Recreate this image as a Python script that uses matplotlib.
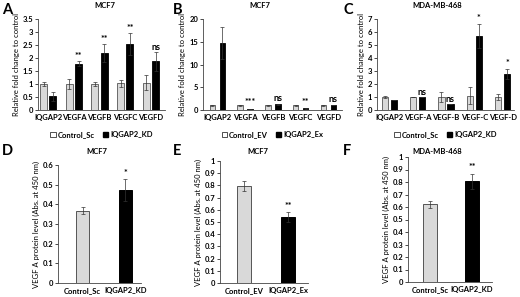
import matplotlib
matplotlib.use("Agg")
import matplotlib.pyplot as plt
import numpy as np
from matplotlib.patches import Patch

plt.rcParams['font.family'] = ['Lato', 'DejaVu Sans']
plt.rcParams['font.weight'] = 'bold'

W, H = 520, 297

# ---------------- data ----------------
genes_ab = ["IQGAP2", "VEGFA", "VEGFB", "VEGFC", "VEGFD"]
genes_c = ["IQGAP2", "VEGF-A", "VEGF-B", "VEGF-C", "VEGF-D"]

a_ctrl = [1.0, 1.0, 1.0, 1.02, 1.05]
a_ctrl_err = [0.08, 0.18, 0.08, 0.12, 0.28]
a_kd = [0.52, 1.78, 2.18, 2.55, 1.87]
a_kd_err = [0.17, 0.10, 0.35, 0.42, 0.38]
a_sig = ["", "**", "**", "**", "ns"]

b_ctrl = [1.0, 1.0, 1.0, 1.0, 1.0]
b_ctrl_err = [0.05, 0.05, 0.05, 0.05, 0.05]
b_ex = [14.8, 0.25, 1.25, 0.35, 1.05]
b_ex_err = [3.5, 0.05, 0.05, 0.05, 0.05]
b_sig = ["", "***", "ns", "**", "ns"]

c_ctrl = [1.0, 1.0, 1.0, 1.1, 1.0]
c_ctrl_err = [0.05, 0.03, 0.38, 0.65, 0.2]
c_kd = [0.8, 0.98, 0.45, 5.7, 2.75]
c_kd_err = [0.0, 0.0, 0.0, 0.95, 0.4]
c_sig = ["", "ns", "ns", "*", "*"]

d_labels = ["Control_Sc", "IQGAP2_KD"]
d_vals = [0.367, 0.472]
d_err = [0.017, 0.055]
d_sig = ["", "*"]

e_labels = ["Control_EV", "IQGAP2_Ex"]
e_vals = [0.795, 0.542]
e_err = [0.04, 0.04]
e_sig = ["", "**"]

f_labels = ["Control_Sc", "IQGAP2_KD"]
f_vals = [0.622, 0.807]
f_err = [0.03, 0.06]
f_sig = ["", "**"]

LIGHT = "#d9d9d9"
EDGE = "#555555"
FS = 5.5

fig = plt.figure(figsize=(W / 100, H / 100), dpi=100)


def add_ax(x0, x1, ytop, ybot):
    return fig.add_axes([x0 / W, (H - ybot) / H, (x1 - x0) / W, (ybot - ytop) / H])


def style(ax):
    for s in ["top", "right"]:
        ax.spines[s].set_visible(False)
    for s in ["left", "bottom"]:
        ax.spines[s].set_linewidth(0.6)
        ax.spines[s].set_color("#444444")
    ax.tick_params(axis="y", length=2, width=0.5, labelsize=FS, pad=1.5)
    ax.tick_params(axis="x", length=0, labelsize=FS, pad=3)


def grouped(ax, cats, ctrl, ctrl_err, trt, trt_err, sig, off, width, ymax, yticks, xlim, dy,
            ylabel, legend_labels):
    x = np.arange(len(cats))
    ax.bar(x - off, ctrl, width, color=LIGHT, edgecolor=EDGE, linewidth=0.6,
           yerr=ctrl_err, error_kw=dict(ecolor="#333333", elinewidth=0.5, capsize=1.2, capthick=0.5))
    ax.bar(x + off, trt, width, color="black", edgecolor="black", linewidth=0.6,
           yerr=trt_err, error_kw=dict(ecolor="#333333", elinewidth=0.5, capsize=1.2, capthick=0.5))
    for i, s in enumerate(sig):
        if s:
            ax.text(x[i] + off, trt[i] + trt_err[i] + dy, s, ha="center", va="bottom",
                    fontsize=FS + 1, fontweight="bold")
    ax.set_ylim(0, ymax)
    ax.set_yticks(yticks)
    ax.set_yticklabels([f"{t:g}" for t in yticks])
    ax.set_xlim(*xlim)
    ax.set_xticks(x)
    ax.set_xticklabels(cats)
    ax.set_ylabel(ylabel, fontsize=FS, labelpad=2)
    style(ax)
    handles = [Patch(facecolor="white", edgecolor="#333333", linewidth=0.6),
               Patch(facecolor="black", edgecolor="black")]
    ax.legend(handles, legend_labels, loc="upper center", bbox_to_anchor=(0.5, -0.2),
              ncol=2, frameon=False, fontsize=FS, handlelength=0.7, handleheight=0.7,
              handletextpad=0.3, columnspacing=1.0, borderaxespad=0)


def single(ax, labels, vals, err, sig, width, ymax, yticks, xlim, dy, ylabel):
    x = np.arange(len(labels))
    ax.bar(x, vals, width, color=[LIGHT, "black"], edgecolor=[EDGE, "black"], linewidth=0.7,
           yerr=err, error_kw=dict(ecolor="#333333", elinewidth=0.5, capsize=1.5, capthick=0.5))
    for i, s in enumerate(sig):
        if s:
            ax.text(x[i], vals[i] + err[i] + dy, s, ha="center", va="bottom",
                    fontsize=FS + 1, fontweight="bold")
    ax.set_ylim(0, ymax)
    ax.set_yticks(yticks)
    ax.set_yticklabels([f"{t:g}" for t in yticks])
    ax.set_xlim(*xlim)
    ax.set_xticks(x)
    ax.set_xticklabels(labels)
    ax.set_ylabel(ylabel, fontsize=FS, labelpad=2)
    style(ax)


ylab_top = "Relative fold change to control"
ylab_bot = "VEGF A protein level (Abs. at 450 nm)"

# Panel A
axA = add_ax(38, 165, 19, 110)
grouped(axA, genes_ab, a_ctrl, a_ctrl_err, a_kd, a_kd_err, a_sig, 0.18, 0.27, 3.5,
        np.arange(0, 3.51, 0.5), (-0.4, 4.55), 0.0, ylab_top, ["Control_Sc", "IQGAP2_KD"])
# Panel B
axB = add_ax(203, 342, 19, 110)
grouped(axB, genes_ab, b_ctrl, b_ctrl_err, b_ex, b_ex_err, b_sig, 0.18, 0.2, 20,
        np.arange(0, 20.1, 5), (-0.52, 4.49), 0.3, ylab_top, ["Control_EV", "IQGAP2_Ex"])
# Panel C
axC = add_ax(377, 514, 19, 110)
grouped(axC, genes_c, c_ctrl, c_ctrl_err, c_kd, c_kd_err, c_sig, 0.16, 0.22, 7,
        np.arange(0, 7.1, 1), (-0.43, 4.4), 0.05, ylab_top, ["Control_Sc", "IQGAP2_KD"])
# Panel D
axD = add_ax(58, 141, 165, 283)
single(axD, d_labels, d_vals, d_err, d_sig, 0.31, 0.6, np.arange(0, 0.61, 0.1),
       (-0.58, 1.37), 0.005, ylab_bot)
# Panel E
axE = add_ax(220, 308, 161, 283)
single(axE, e_labels, e_vals, e_err, e_sig, 0.32, 1.0, np.arange(0, 1.01, 0.1),
       (-0.55, 1.45), 0.01, ylab_bot)
# Panel F
axF = add_ax(408, 492, 157, 282)
single(axF, f_labels, f_vals, f_err, f_sig, 0.33, 1.0, np.arange(0, 1.01, 0.1),
       (-0.52, 1.48), 0.01, ylab_bot)

# Titles
for (x, y, t) in [(105, 5, "MCF7"), (260, 5, "MCF7"), (437, 5, "MDA-MB-468"),
                  (97, 152, "MCF7"), (258, 152, "MCF7"), (437, 151, "MDA-MB-468")]:
    fig.text(x / W, 1 - y / H, t, ha="center", va="center", fontsize=FS, fontweight="bold")

# Panel letters
for (x, y, t) in [(2, 10, "A"), (173, 10, "B"), (343, 10, "C"),
                  (2, 151, "D"), (173, 151, "E"), (343, 151, "F")]:
    fig.text(x / W, 1 - y / H, t, ha="left", va="center", fontsize=10.5, fontweight="bold")

fig.savefig("out.png", dpi=100)
